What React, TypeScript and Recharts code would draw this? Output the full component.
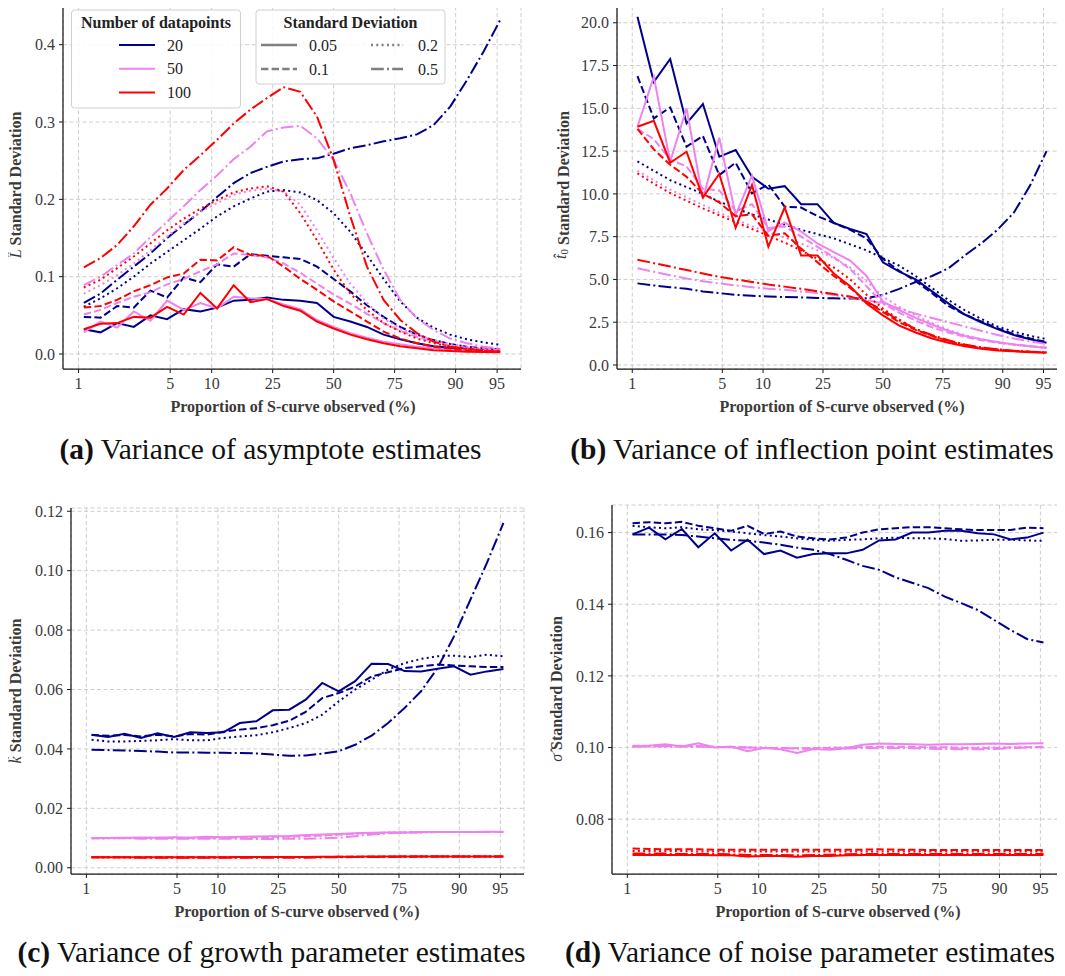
import React from "react";
import { LineChart, Line, XAxis, YAxis, CartesianGrid } from "recharts";

const FONT = '"Liberation Serif", "Times New Roman", Times, serif';
const TEXT = "#3a3a3a";

// time grid of the S-curve (x is logit of the observed proportion)
const observedTime = [
  -4.5, -4.2, -3.9, -3.6, -3.3, -3.0, -2.7, -2.4, -2.1, -1.8, -1.5, -1.2, -0.9,
  -0.6, -0.3, 0, 0.3, 0.6, 0.9, 1.2, 1.5, 1.8, 2.1, 2.4, 2.7, 3.0,
];
const proportionTicks = [1, 5, 10, 25, 50, 75, 90, 95];
const logit = (pct: number) => Math.log(pct / (100 - pct));
const xTicks = proportionTicks.map(logit);

const datapointCounts = ["20", "50", "100"];
const noiseLevels = ["0.05", "0.1", "0.2", "0.5"];
const countColor: Record<string, string> = { "20": "#00008b", "50": "#ee82ee", "100": "#ff0000" };
const noiseDash: Record<string, string | undefined> = {
  "0.05": undefined,
  "0.1": "7.4 3.2",
  "0.2": "2 3.3",
  "0.5": "12.8 3.2 2 3.2",
};

// (a) asymptote L
const asymptote20 = {
  "0.05": [0.032, 0.028, 0.040, 0.035, 0.050, 0.045, 0.058, 0.055, 0.060, 0.069, 0.070, 0.073, 0.070, 0.069, 0.066, 0.048, 0.042, 0.035, 0.025, 0.019, 0.014, 0.010, 0.008, 0.007, 0.006, 0.006],
  "0.1": [0.048, 0.047, 0.062, 0.060, 0.082, 0.073, 0.099, 0.093, 0.116, 0.113, 0.129, 0.127, 0.125, 0.123, 0.113, 0.097, 0.081, 0.063, 0.048, 0.035, 0.025, 0.018, 0.013, 0.0095, 0.0073, 0.006],
  "0.2": [0.061, 0.072, 0.085, 0.100, 0.117, 0.132, 0.147, 0.162, 0.178, 0.191, 0.201, 0.210, 0.212, 0.209, 0.199, 0.182, 0.158, 0.128, 0.097, 0.068, 0.047, 0.034, 0.025, 0.019, 0.015, 0.012],
  "0.5": [0.066, 0.078, 0.096, 0.113, 0.130, 0.150, 0.167, 0.184, 0.203, 0.221, 0.234, 0.242, 0.249, 0.252, 0.253, 0.259, 0.266, 0.270, 0.275, 0.279, 0.284, 0.296, 0.320, 0.354, 0.391, 0.432],
};
const asymptote50 = {
  "0.05": [0.028, 0.042, 0.034, 0.055, 0.043, 0.069, 0.057, 0.066, 0.059, 0.074, 0.072, 0.071, 0.064, 0.058, 0.044, 0.035, 0.027, 0.021, 0.016, 0.0125, 0.0095, 0.0073, 0.0056, 0.0047, 0.004, 0.0035],
  "0.1": [0.051, 0.057, 0.066, 0.074, 0.080, 0.090, 0.097, 0.107, 0.116, 0.130, 0.128, 0.125, 0.117, 0.105, 0.091, 0.077, 0.065, 0.052, 0.040, 0.030, 0.022, 0.016, 0.011, 0.008, 0.006, 0.005],
  "0.2": [0.078, 0.089, 0.102, 0.117, 0.134, 0.152, 0.169, 0.184, 0.195, 0.206, 0.211, 0.214, 0.210, 0.193, 0.160, 0.124, 0.091, 0.066, 0.046, 0.033, 0.025, 0.018, 0.013, 0.0095, 0.007, 0.006],
  "0.5": [0.089, 0.100, 0.115, 0.130, 0.151, 0.171, 0.191, 0.212, 0.231, 0.252, 0.268, 0.288, 0.293, 0.295, 0.279, 0.251, 0.208, 0.156, 0.109, 0.070, 0.046, 0.031, 0.020, 0.014, 0.0095, 0.007],
};
const asymptote100 = {
  "0.05": [0.032, 0.039, 0.040, 0.048, 0.047, 0.061, 0.051, 0.079, 0.059, 0.089, 0.067, 0.071, 0.062, 0.056, 0.042, 0.033, 0.025, 0.019, 0.014, 0.010, 0.0073, 0.005, 0.004, 0.003, 0.0026, 0.0022],
  "0.1": [0.060, 0.062, 0.070, 0.081, 0.089, 0.099, 0.104, 0.122, 0.121, 0.138, 0.128, 0.127, 0.113, 0.097, 0.083, 0.068, 0.055, 0.042, 0.029, 0.020, 0.014, 0.0095, 0.007, 0.005, 0.004, 0.003],
  "0.2": [0.086, 0.096, 0.111, 0.126, 0.143, 0.160, 0.175, 0.188, 0.199, 0.209, 0.214, 0.217, 0.210, 0.182, 0.147, 0.109, 0.078, 0.057, 0.040, 0.029, 0.020, 0.014, 0.0095, 0.007, 0.005, 0.004],
  "0.5": [0.112, 0.124, 0.141, 0.165, 0.193, 0.214, 0.238, 0.257, 0.277, 0.298, 0.316, 0.331, 0.345, 0.339, 0.307, 0.251, 0.178, 0.113, 0.070, 0.044, 0.027, 0.016, 0.0095, 0.0065, 0.0043, 0.003],
};

// (b) inflection point t0
const inflection20 = {
  "0.05": [20.35, 16.55, 17.88, 14.12, 15.25, 12.17, 12.56, 11.0, 10.3, 10.45, 9.4, 9.4, 8.3, 7.95, 7.65, 6.0, 5.45, 5.0, 4.3, 3.6, 2.95, 2.5, 2.1, 1.75, 1.5, 1.3],
  "0.1": [16.88, 14.41, 15.05, 12.76, 13.38, 11.1, 11.82, 10.03, 10.55, 9.25, 9.2, 8.7, 8.3, 7.9, 7.4, 6.2, 5.5, 4.9, 4.2, 3.45, 2.95, 2.55, 2.15, 1.8, 1.55, 1.35],
  "0.2": [11.9, 11.35, 10.8, 10.4, 10.0, 9.55, 9.15, 8.8, 8.5, 8.2, 7.9, 7.65, 7.4, 7.05, 6.7, 6.25, 5.8, 5.2, 4.5, 3.8, 3.2, 2.7, 2.25, 1.95, 1.7, 1.52],
  "0.5": [4.77, 4.65, 4.55, 4.45, 4.3, 4.2, 4.1, 4.05, 4.0, 3.97, 3.95, 3.92, 3.9, 3.88, 3.9, 4.1, 4.45, 4.85, 5.2, 5.65, 6.4, 7.1, 7.9, 8.9, 10.5, 12.5],
};
const inflection50 = {
  "0.05": [13.92, 16.85, 11.88, 15.0, 9.7, 13.28, 8.76, 11.06, 7.83, 8.32, 7.8, 7.1, 6.6, 6.1, 5.2, 3.7, 3.2, 2.75, 2.35, 2.0, 1.7, 1.5, 1.35, 1.2, 1.1, 1.0],
  "0.1": [13.8, 13.2, 12.0, 11.6, 10.3, 10.2, 9.0, 9.4, 8.0, 8.1, 7.5, 6.9, 6.3, 5.6, 4.6, 3.6, 3.05, 2.6, 2.2, 1.9, 1.65, 1.45, 1.3, 1.2, 1.1, 1.02],
  "0.2": [11.35, 10.8, 10.25, 9.8, 9.35, 8.9, 8.5, 8.1, 7.75, 7.45, 7.1, 6.7, 6.25, 5.7, 4.9, 4.0, 3.4, 2.9, 2.45, 2.05, 1.75, 1.5, 1.3, 1.18, 1.08, 1.0],
  "0.5": [5.65, 5.45, 5.25, 5.05, 4.9, 4.77, 4.65, 4.55, 4.45, 4.4, 4.3, 4.2, 4.1, 3.95, 3.8, 3.6, 3.3, 3.0, 2.75, 2.5, 2.25, 2.0, 1.75, 1.55, 1.38, 1.22],
};
const inflection100 = {
  "0.05": [13.92, 14.27, 11.82, 12.46, 9.8, 11.16, 8.02, 10.52, 6.91, 9.21, 6.4, 6.4, 5.35, 4.6, 3.6, 2.9, 2.3, 1.9, 1.55, 1.3, 1.1, 0.95, 0.85, 0.8, 0.75, 0.72],
  "0.1": [13.8, 12.6, 11.7, 11.0, 10.0, 9.5, 8.7, 8.8, 7.55, 7.7, 6.8, 6.0, 5.2, 4.5, 3.7, 3.1, 2.5, 2.05, 1.7, 1.4, 1.15, 1.0, 0.9, 0.82, 0.77, 0.74],
  "0.2": [11.2, 10.6, 10.05, 9.6, 9.15, 8.75, 8.35, 7.95, 7.55, 7.15, 6.7, 6.2, 5.7, 5.0, 4.1, 3.3, 2.65, 2.1, 1.7, 1.4, 1.17, 1.0, 0.9, 0.82, 0.77, 0.73],
  "0.5": [6.15, 5.95, 5.75, 5.55, 5.35, 5.15, 5.0, 4.85, 4.7, 4.58, 4.45, 4.3, 4.15, 4.0, 3.7, 3.2, 2.6, 2.1, 1.75, 1.45, 1.2, 1.03, 0.92, 0.84, 0.78, 0.74],
};

// (c) growth parameter k
const growth20 = {
  "0.05": [0.0448, 0.0440, 0.0451, 0.0437, 0.0453, 0.0440, 0.0456, 0.0454, 0.0456, 0.0487, 0.0493, 0.0530, 0.0532, 0.0566, 0.0622, 0.0594, 0.0628, 0.0687, 0.0686, 0.0662, 0.0661, 0.0670, 0.0678, 0.0650, 0.0661, 0.0669],
  "0.1": [0.0447, 0.0444, 0.0447, 0.0442, 0.0448, 0.0442, 0.0450, 0.0448, 0.0458, 0.0465, 0.0470, 0.0480, 0.0495, 0.0525, 0.0571, 0.0588, 0.0610, 0.0644, 0.0658, 0.0672, 0.0678, 0.0684, 0.0681, 0.0678, 0.0676, 0.0676],
  "0.2": [0.0431, 0.0425, 0.0425, 0.0427, 0.0429, 0.0433, 0.0429, 0.0429, 0.0437, 0.0442, 0.0446, 0.0456, 0.0470, 0.0487, 0.0515, 0.0560, 0.0600, 0.0633, 0.0667, 0.0689, 0.0703, 0.0712, 0.0714, 0.0709, 0.0717, 0.0712],
  "0.5": [0.0397, 0.0396, 0.0395, 0.0393, 0.0391, 0.0388, 0.0388, 0.0387, 0.0387, 0.0386, 0.0385, 0.0381, 0.0377, 0.0378, 0.0384, 0.0392, 0.0414, 0.0445, 0.0487, 0.0538, 0.0594, 0.0672, 0.0779, 0.0903, 0.1026, 0.1161],
};
const growth50 = {
  "0.05": [0.0100, 0.0100, 0.0101, 0.0102, 0.0101, 0.0103, 0.0101, 0.0104, 0.0103, 0.0104, 0.0105, 0.0106, 0.0107, 0.0110, 0.0112, 0.0114, 0.0116, 0.0118, 0.0119, 0.0119, 0.0120, 0.0120, 0.0120, 0.0120, 0.0121, 0.0121],
  "0.1": [0.0099, 0.0100, 0.0100, 0.0100, 0.0101, 0.0100, 0.0101, 0.0101, 0.0101, 0.0102, 0.0103, 0.0104, 0.0105, 0.0107, 0.0109, 0.0112, 0.0115, 0.0117, 0.0118, 0.0119, 0.0120, 0.0120, 0.0120, 0.0120, 0.0120, 0.0120],
  "0.2": [0.0099, 0.0099, 0.0100, 0.0100, 0.0100, 0.0100, 0.0100, 0.0100, 0.0101, 0.0101, 0.0102, 0.0102, 0.0104, 0.0106, 0.0108, 0.0111, 0.0114, 0.0117, 0.0118, 0.0119, 0.0119, 0.0120, 0.0120, 0.0120, 0.0120, 0.0120],
  "0.5": [0.0099, 0.0099, 0.0099, 0.0098, 0.0098, 0.0098, 0.0098, 0.0098, 0.0098, 0.0098, 0.0097, 0.0097, 0.0098, 0.0098, 0.0099, 0.0101, 0.0106, 0.0112, 0.0116, 0.0118, 0.0119, 0.0120, 0.0120, 0.0120, 0.0120, 0.0120],
};
const growth100 = {
  "0.05": [0.0035, 0.0035, 0.0035, 0.0035, 0.0035, 0.0035, 0.0035, 0.0035, 0.0035, 0.0036, 0.0036, 0.0036, 0.0036, 0.0036, 0.0037, 0.0037, 0.0037, 0.0038, 0.0038, 0.0038, 0.0038, 0.0038, 0.0038, 0.0038, 0.0038, 0.0038],
  "0.1": [0.0035, 0.0035, 0.0035, 0.0035, 0.0035, 0.0035, 0.0035, 0.0035, 0.0035, 0.0035, 0.0036, 0.0036, 0.0036, 0.0036, 0.0036, 0.0037, 0.0037, 0.0037, 0.0037, 0.0038, 0.0038, 0.0038, 0.0038, 0.0038, 0.0038, 0.0038],
  "0.2": [0.0035, 0.0035, 0.0035, 0.0035, 0.0035, 0.0035, 0.0035, 0.0035, 0.0035, 0.0035, 0.0035, 0.0036, 0.0036, 0.0036, 0.0036, 0.0036, 0.0037, 0.0037, 0.0037, 0.0037, 0.0038, 0.0038, 0.0038, 0.0038, 0.0038, 0.0038],
  "0.5": [0.0035, 0.0035, 0.0035, 0.0034, 0.0034, 0.0034, 0.0034, 0.0034, 0.0034, 0.0034, 0.0034, 0.0034, 0.0034, 0.0034, 0.0035, 0.0035, 0.0036, 0.0036, 0.0037, 0.0037, 0.0038, 0.0038, 0.0038, 0.0038, 0.0038, 0.0038],
};

// (d) noise parameter sigma
const noise20 = {
  "0.05": [0.1595, 0.1614, 0.1581, 0.1610, 0.1559, 0.1598, 0.1550, 0.1580, 0.1540, 0.1550, 0.1530, 0.1540, 0.1542, 0.1542, 0.1552, 0.1578, 0.1581, 0.1600, 0.1600, 0.1605, 0.1605, 0.1598, 0.1595, 0.1581, 0.1586, 0.1600],
  "0.1": [0.1626, 0.1629, 0.1626, 0.1630, 0.1619, 0.1612, 0.1605, 0.1619, 0.1596, 0.1603, 0.1589, 0.1584, 0.1581, 0.1586, 0.1600, 0.1609, 0.1612, 0.1615, 0.1615, 0.1612, 0.1609, 0.1607, 0.1607, 0.1607, 0.1614, 0.1612],
  "0.2": [0.1619, 0.1615, 0.1612, 0.1615, 0.1609, 0.1607, 0.1603, 0.1598, 0.1593, 0.1589, 0.1584, 0.1580, 0.1577, 0.1580, 0.1581, 0.1584, 0.1586, 0.1584, 0.1584, 0.1582, 0.1577, 0.1578, 0.1580, 0.1580, 0.1578, 0.1577],
  "0.5": [0.1595, 0.1595, 0.1595, 0.1593, 0.1589, 0.1584, 0.1580, 0.1577, 0.1572, 0.1566, 0.1558, 0.1552, 0.1540, 0.1524, 0.1507, 0.1496, 0.1475, 0.1460, 0.1445, 0.1421, 0.1403, 0.1384, 0.1356, 0.1328, 0.1303, 0.1293],
};
const noise50 = {
  "0.05": [0.1003, 0.1005, 0.1009, 0.1003, 0.1012, 0.1000, 0.1003, 0.0990, 0.0999, 0.0995, 0.0985, 0.0996, 0.0994, 0.0998, 0.1008, 0.1011, 0.1010, 0.1009, 0.1008, 0.1009, 0.1009, 0.1010, 0.1011, 0.1010, 0.1011, 0.1012],
  "0.1": [0.1005, 0.1005, 0.1004, 0.1005, 0.1003, 0.1002, 0.1001, 0.1000, 0.0999, 0.0999, 0.0998, 0.0998, 0.0999, 0.1000, 0.1001, 0.1002, 0.1002, 0.1002, 0.1001, 0.1001, 0.0999, 0.0998, 0.0999, 0.1000, 0.1001, 0.1002],
  "0.2": [0.1002, 0.1003, 0.1002, 0.1003, 0.1002, 0.1001, 0.1001, 0.1000, 0.1000, 0.0999, 0.0999, 0.0999, 0.1000, 0.1000, 0.1001, 0.1001, 0.1000, 0.1000, 0.1000, 0.1000, 0.1000, 0.1000, 0.1000, 0.1001, 0.1001, 0.1001],
  "0.5": [0.1003, 0.1003, 0.1004, 0.1003, 0.1004, 0.1002, 0.1001, 0.1000, 0.0999, 0.0998, 0.0997, 0.0996, 0.0996, 0.0997, 0.0998, 0.0998, 0.0998, 0.0998, 0.0997, 0.0996, 0.0995, 0.0995, 0.0996, 0.0998, 0.1000, 0.1001],
};
const noise100 = {
  "0.05": [0.0700, 0.0701, 0.0700, 0.0700, 0.0700, 0.0699, 0.0699, 0.0696, 0.0697, 0.0697, 0.0695, 0.0697, 0.0697, 0.0699, 0.0700, 0.0700, 0.0700, 0.0700, 0.0700, 0.0700, 0.0700, 0.0700, 0.0700, 0.0700, 0.0700, 0.0700],
  "0.1": [0.0718, 0.0717, 0.0716, 0.0716, 0.0716, 0.0715, 0.0715, 0.0715, 0.0715, 0.0715, 0.0715, 0.0715, 0.0715, 0.0715, 0.0715, 0.0716, 0.0715, 0.0715, 0.0714, 0.0714, 0.0714, 0.0714, 0.0714, 0.0714, 0.0714, 0.0714],
  "0.2": [0.0711, 0.0711, 0.0711, 0.0711, 0.0710, 0.0710, 0.0710, 0.0710, 0.0710, 0.0710, 0.0710, 0.0710, 0.0710, 0.0710, 0.0710, 0.0710, 0.0710, 0.0710, 0.0710, 0.0710, 0.0710, 0.0710, 0.0710, 0.0710, 0.0710, 0.0710],
  "0.5": [0.0704, 0.0704, 0.0704, 0.0703, 0.0703, 0.0703, 0.0702, 0.0700, 0.0700, 0.0700, 0.0699, 0.0700, 0.0701, 0.0702, 0.0703, 0.0703, 0.0703, 0.0703, 0.0703, 0.0703, 0.0703, 0.0703, 0.0703, 0.0703, 0.0703, 0.0703],
};

type Group = Record<string, number[]>;

function buildRows(groups: Record<string, Group>) {
  return observedTime.map((t, i) => {
    const row: Record<string, number> = { t };
    for (const n of datapointCounts)
      for (const s of noiseLevels) row[`n${n}_s${s}`] = groups[n][s][i];
    return row;
  });
}

const xLabel = (v: number) => {
  const i = xTicks.findIndex((x) => Math.abs(x - v) < 1e-6);
  return i >= 0 ? String(proportionTicks[i]) : "";
};

const tickStyle = { fill: TEXT, fontSize: 16, fontFamily: FONT };
const axisStyle = { stroke: "#1a1a1a", strokeWidth: 1.25 };

function Panel(props: any) {
  const { left, top, width, height, margin, yWidth, xHeight, rows, yDomain, yTicks, digits } = props;
  return (
    <div style={{ position: "absolute", left, top }}>
      <LineChart width={width} height={height} data={rows} margin={margin}>
        <CartesianGrid stroke="#c8c8c8" strokeDasharray="4 2.5" strokeWidth={0.9} />
        <XAxis
          type="number"
          dataKey="t"
          domain={[-4.875, 3.375]}
          allowDataOverflow
          ticks={xTicks}
          interval={0}
          tickFormatter={xLabel}
          height={xHeight}
          axisLine={axisStyle}
          tickLine={{ stroke: "#1a1a1a" }}
          tickSize={4}
          tickMargin={5}
          tick={tickStyle}
        />
        <YAxis
          type="number"
          domain={yDomain}
          allowDataOverflow
          ticks={yTicks}
          interval={0}
          tickFormatter={(v: number) => v.toFixed(digits)}
          width={yWidth}
          axisLine={axisStyle}
          tickLine={{ stroke: "#1a1a1a" }}
          tickSize={4}
          tickMargin={4}
          tick={tickStyle}
        />
        {datapointCounts.map((n) =>
          noiseLevels.map((s) => (
            <Line
              key={`${n}-${s}`}
              type="linear"
              dataKey={`n${n}_s${s}`}
              stroke={countColor[n]}
              strokeDasharray={noiseDash[s]}
              strokeWidth={2}
              dot={false}
              activeDot={false}
              isAnimationActive={false}
            />
          ))
        )}
      </LineChart>
    </div>
  );
}

function YTitle({ x, y, symbol }: { x: number; y: number; symbol: React.ReactNode }) {
  return (
    <text x={x} y={y} transform={`rotate(-90 ${x} ${y})`} textAnchor="middle" dominantBaseline="middle"
      fontFamily={FONT} fontSize={16} fill={TEXT}>
      {symbol}
      <tspan fontWeight="bold"> Standard Deviation</tspan>
    </text>
  );
}

function XTitle({ x, y }: { x: number; y: number }) {
  return (
    <text x={x} y={y} textAnchor="middle" fontFamily={FONT} fontSize={16} fontWeight="bold" fill={TEXT}>
      Proportion of S-curve observed (%)
    </text>
  );
}

function Caption({ x, y, tag, text }: { x: number; y: number; tag: string; text: string }) {
  return (
    <text x={x} y={y} textAnchor="middle" fontFamily={FONT} fontSize={29.5} fill="#111">
      <tspan fontWeight="bold">{tag}</tspan> {text}
    </text>
  );
}

function Legends() {
  const gray = "#7f7f7f";
  const lab = { fontFamily: FONT, fontSize: 16, fill: "#222" };
  return (
    <g>
      <rect x={71.5} y={10} width={169} height={98} rx={3} fill="#fff" fillOpacity={0.85} stroke="#d0d0d0" />
      <text x={156} y={27.5} textAnchor="middle" {...lab} fontWeight="bold">Number of datapoints</text>
      {datapointCounts.map((n, i) => (
        <g key={n}>
          <line x1={119} x2={155} y1={45 + i * 23.8} y2={45 + i * 23.8} stroke={countColor[n]} strokeWidth={2} />
          <text x={167} y={50.5 + i * 23.8} {...lab}>{n}</text>
        </g>
      ))}
      <rect x={256} y={10} width={189} height={74} rx={3} fill="#fff" fillOpacity={0.85} stroke="#d0d0d0" />
      <text x={350.5} y={27.5} textAnchor="middle" {...lab} fontWeight="bold">Standard Deviation</text>
      {noiseLevels.map((s, i) => {
        const col = Math.floor(i / 2);
        const row = i % 2;
        const x0 = col === 0 ? 261 : 371;
        const len = col === 0 ? 36 : 32;
        const tx = col === 0 ? 309 : 418;
        const y = 45 + row * 24;
        return (
          <g key={s}>
            <line x1={x0} x2={x0 + len} y1={y} y2={y} stroke={gray} strokeWidth={2.6} strokeDasharray={noiseDash[s]} />
            <text x={tx} y={y + 5.5} {...lab}>{s}</text>
          </g>
        );
      })}
    </g>
  );
}

export default function App() {
  const rowsA = buildRows({ "20": asymptote20, "50": asymptote50, "100": asymptote100 });
  const rowsB = buildRows({ "20": inflection20, "50": inflection50, "100": inflection100 });
  const rowsC = buildRows({ "20": growth20, "50": growth50, "100": growth100 });
  const rowsD = buildRows({ "20": noise20, "50": noise50, "100": noise100 });

  return (
    <div style={{ position: "relative", width: 1065, height: 976, overflow: "hidden", margin: -8, background: "#fff" }}>
      <Panel left={0} top={0} width={530} height={420} margin={{ top: 0, right: 9, bottom: 0, left: 0 }}
        yWidth={63} xHeight={51} rows={rowsA} yDomain={[-0.0194, 0.4578]} yTicks={[0, 0.1, 0.2, 0.3, 0.4]} digits={1} />
      <Panel left={550} top={0} width={520} height={420} margin={{ top: 0, right: 3, bottom: 0, left: 0 }}
        yWidth={67} xHeight={51} rows={rowsB} yDomain={[-0.234, 21.33]} yTicks={[0, 2.5, 5, 7.5, 10, 12.5, 15, 17.5, 20]} digits={1} />
      <Panel left={0} top={490} width={530} height={440} margin={{ top: 18, right: 6, bottom: 0, left: 0 }}
        yWidth={71} xHeight={56} rows={rowsC} yDomain={[-0.0021, 0.1211]} yTicks={[0, 0.02, 0.04, 0.06, 0.08, 0.1, 0.12]} digits={2} />
      <Panel left={540} top={490} width={530} height={440} margin={{ top: 15, right: 6, bottom: 0, left: 0 }}
        yWidth={72} xHeight={56} rows={rowsD} yDomain={[0.0647, 0.1677]} yTicks={[0.08, 0.1, 0.12, 0.14, 0.16]} digits={2} />

      <svg width={1065} height={976} style={{ position: "absolute", left: 0, top: 0, pointerEvents: "none" }}>
        <Legends />
        <YTitle x={17} y={185} symbol={<tspan fontStyle="italic">{"L\u0302"}</tspan>} />
        <YTitle x={562} y={185} symbol={<><tspan fontStyle="italic">{"t\u0302"}</tspan><tspan fontSize={11} dy={3}>0</tspan><tspan dy={-3}></tspan></>} />
        <YTitle x={17} y={691} symbol={<tspan fontStyle="italic">{"k\u0302"}</tspan>} />
        <YTitle x={558} y={689} symbol={<tspan fontStyle="italic">{"\u03c3\u0302"}</tspan>} />
        <XTitle x={293} y={412} />
        <XTitle x={842} y={412} />
        <XTitle x={297} y={917} />
        <XTitle x={838} y={917} />
        <Caption x={270.5} y={459} tag="(a)" text="Variance of asymptote estimates" />
        <Caption x={812} y={459} tag="(b)" text="Variance of inflection point estimates" />
        <Caption x={271.5} y={962} tag="(c)" text="Variance of growth parameter estimates" />
        <Caption x={810} y={962} tag="(d)" text="Variance of noise parameter estimates" />
      </svg>
    </div>
  );
}
